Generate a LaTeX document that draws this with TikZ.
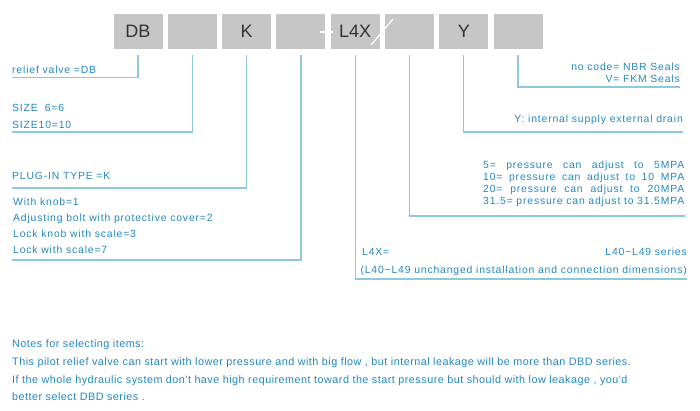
\documentclass[tikz,border=0pt]{standalone}
\usepackage{fontspec}
\setmainfont{Liberation Sans}
\newfontfamily\lblfont{Liberation Sans}[LetterSpace=8]
\newfontfamily\notefont{Liberation Sans}[LetterSpace=4.5]
\usepackage{xcolor}

\definecolor{codegray}{HTML}{C6C6C6}
\definecolor{codetxt}{HTML}{333333}
\definecolor{leadblue}{HTML}{8CC8DE}
\definecolor{txtblue}{HTML}{2287BF}

\tikzset{
  codebox/.style={fill=codegray, minimum width=49pt, minimum height=35pt, inner sep=0pt, text=codetxt, font=\fontsize{18}{18}\selectfont},
  lead/.style={draw=leadblue, line width=1.3pt},
  lbl/.style={inner sep=0pt, text=txtblue, font=\lblfont\fontsize{10.4}{12}\selectfont},
  note/.style={inner sep=0pt, text=txtblue, font=\notefont\fontsize{10.8}{13}\selectfont},
}

\begin{document}
\begin{tikzpicture}[x=1pt, y=-1pt]
    \useasboundingbox (0,0) rectangle (700,411);

    % model code boxes
    \foreach \code [count=\i] in {DB,,K,,L4X,,Y,}
      \node[codebox] (b\i) at ({138+54.3*(\i-1)},31.5) {\code};

    % white marks on the boxes
    \draw[white, line width=1.2pt] (320,32) -- (333,32);
    \draw[white, line width=1.2pt] (371,45) -- (393,19);

    % ends of the leaders
    \coordinate (e1) at (12,77.5);
    \coordinate (e2) at (12,132);
    \coordinate (e3) at (12,188);
    \coordinate (e4) at (12,260);
    \coordinate (e5) at (687,279);
    \coordinate (e6) at (685,216);
    \coordinate (e7) at (683,132);
    \coordinate (e8) at (680,87);

    % leaders
    \foreach \i in {1,...,8}
      \draw[lead] ([yshift=-6pt]b\i.south) |- (e\i);

    % relief valve
    \node[lbl, anchor=base west] (valve) at (12,74) {relief valve =DB};

    % size
    \node[lbl, anchor=base west] (size6) at (12,112) {SIZE\hspace{7pt}6=6};
    \node[lbl, anchor=base west] (size10) at (12,129) {SIZE10=10};

    % plug-in type
    \node[lbl, anchor=base west] (plugin) at (12,180) {PLUG-IN TYPE =K};

    % adjustment
    \node[lbl, anchor=base west] (adj1) at (13,206) {With knob=1};
    \node[lbl, anchor=base west] (adj2) at (13,222) {Adjusting bolt with protective cover=2};
    \node[lbl, anchor=base west] (adj3) at (13,238) {Lock knob with scale=3};
    \node[lbl, anchor=base west] (adj7) at (13,254) {Lock with scale=7};

    % series
    \node[lbl, anchor=base west] (series) at (362,255) {L4X=};
    \node[lbl, anchor=base east] (seriesr) at (687,255) {L40\textasciitilde L49 series};
    \node[lbl, anchor=base east] (seriesn) at (687,273)
      {(L40\textasciitilde L49 unchanged installation and connection dimensions)};

    % pressure
    \node[lbl, anchor=base west] (p5) at (483,169) {\makebox[201pt][s]{5= pressure can adjust to 5MPA}};
    \node[lbl, anchor=base west] (p10) at (483,181) {\makebox[201pt][s]{10= pressure can adjust to 10 MPA}};
    \node[lbl, anchor=base west] (p20) at (483,193) {\makebox[201pt][s]{20= pressure can adjust to 20MPA}};
    \node[lbl, anchor=base west] (p31) at (483,205) {\makebox[201pt][s]{31.5= pressure can adjust to 31.5MPA}};

    % drain
    \node[lbl, anchor=base east] (drain) at (683,123) {Y: internal supply external drain};

    % seals
    \node[lbl, anchor=base east] (nbr) at (680,71) {no code= NBR Seals};
    \node[lbl, anchor=base east] (fkm) at (680,83) {V= FKM Seals};

    % notes
    \node[note, anchor=base west] (n1) at (12,347) {Notes for selecting items:};
    \node[note, anchor=base west] (n2) at (12,365) {This pilot relief valve can start with lower pressure and with big flow , but internal leakage will be more than DBD series.};
    \node[note, anchor=base west] (n3) at (12,383) {If the whole hydraulic system don't have high requirement toward the start pressure but should with low leakage , you'd};
    \node[note, anchor=base west] (n4) at (12,400) {better select DBD series .};

\end{tikzpicture}
\end{document}
